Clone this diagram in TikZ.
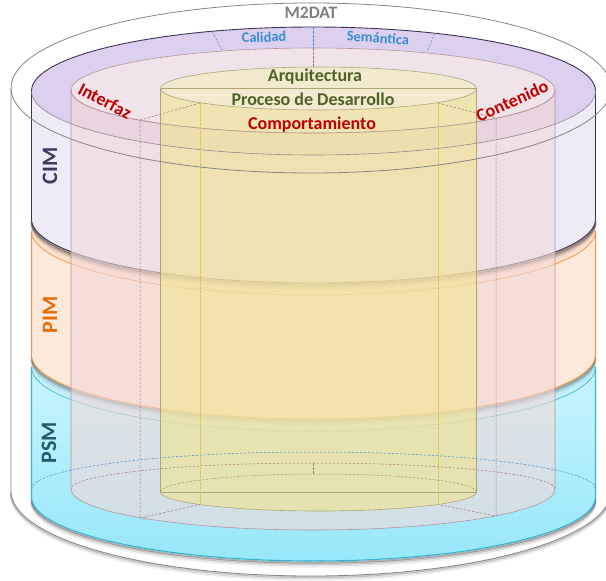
\documentclass[tikz,border=0pt]{standalone}
\usepackage{fontspec}
\setmainfont{Carlito}
\definecolor{outerline}{HTML}{858585}
\definecolor{cimside}{HTML}{EFEAF8}
\definecolor{cimtop}{HTML}{DCD0EE}
\definecolor{cimline}{HTML}{3C3457}
\definecolor{pimside}{HTML}{FDE9DA}
\definecolor{pimtop}{HTML}{FCE2CE}
\definecolor{pimline}{HTML}{F28F45}
\definecolor{psmA}{HTML}{C8F5FD}
\definecolor{psmB}{HTML}{97E7FA}
\definecolor{psmtop}{HTML}{C2EFF9}
\definecolor{psmline}{HTML}{36B3D3}
\definecolor{pinkfill}{HTML}{F2D8D8}
\definecolor{pinktop}{HTML}{F1E3EA}
\definecolor{pinkline}{HTML}{B89496}
\definecolor{yelfill}{HTML}{F0E58E}
\definecolor{yeltop}{HTML}{F2E9CF}
\definecolor{yelline}{HTML}{A9A774}
\definecolor{dashblue}{HTML}{4A90D0}
\definecolor{dashbrown}{HTML}{A87878}
\definecolor{dashyel}{HTML}{DDBF55}
\definecolor{txtgray}{HTML}{7F7F7F}
\definecolor{txtblue}{HTML}{3B8ED6}
\definecolor{txtolive}{HTML}{4F6228}
\definecolor{txtred}{HTML}{C00000}
\definecolor{txtcim}{HTML}{3F3A5C}
\definecolor{txtpim}{HTML}{E46C0A}
\definecolor{txtpsm}{HTML}{215A6B}
\begin{document}
\begin{tikzpicture}[x=1pt,y=-1pt,
  cylside/.style n args={6}{insert path={({#1-#2},#3) -- ({#1-#2},#5)
      arc[start angle=180,end angle=0,x radius=#2,y radius=#6] -- ({#1+#2},#3)
      arc[start angle=0,end angle=180,x radius=#2,y radius=#4] -- cycle}},
  frontarc/.style n args={4}{insert path={({#1-#2},#3) arc[start angle=180,end angle=0,x radius=#2,y radius=#4]}},
  backarc/.style n args={4}{insert path={({#1+#2},#3) arc[start angle=0,end angle=-180,x radius=#2,y radius=#4]}},
  dashline/.style={line width=0.5pt,dash pattern=on 2.5pt off 1.5pt},
  lbl/.style={inner sep=0pt,font=\bfseries\fontsize{18}{20}\selectfont},
  layerlbl/.style={inner sep=0pt,rotate=90,font=\bfseries\fontsize{22}{24}\selectfont},
  ringlbl/.style={inner sep=0pt,text=txtblue,font=\bfseries\fontsize{14.5}{16}\selectfont},
]
\useasboundingbox (0,0) rectangle (606,581);

% ---------- outer M2DAT cylinder ----------
\foreach \d/\o in {1/.20,2.5/.10,4/.05}
  \draw[line width=2pt,black,opacity=\o,frontarc={311}{300}{491+\d}{85}];
\fill[white,cylside={311}{300}{88}{85}{491}{85}];
\draw[outerline,line width=0.8pt] (11,88) -- (11,491)
  arc[start angle=180,end angle=0,x radius=300,y radius=85] -- (611,88);

% ---------- PSM layer ----------
\foreach \d/\o in {1.5/.30,3/.18,4.5/.09,6/.04}
  \draw[line width=2pt,black,opacity=\o,frontarc={313.5}{282}{497+\d}{64}];
\shade[top color=psmA,bottom color=psmB,cylside={313.5}{282}{367}{64}{497}{64}];
\fill[psmtop] (313.5,367) ellipse[x radius=282,y radius=64];
\draw[psmline,line width=0.6pt,frontarc={313.5}{282}{367}{64}];
\draw[psmline,line width=1.1pt] (31.5,367) -- (31.5,497)
  arc[start angle=180,end angle=0,x radius=282,y radius=64] -- (595.5,367);

% ---------- PIM layer ----------
\foreach \d/\o in {1.5/.25,3/.15,4.5/.08,6/.03}
  \draw[line width=2pt,black,opacity=\o,frontarc={313.5}{282}{355+\d}{64}];
\fill[pimside,cylside={313.5}{282}{231}{64}{355}{64}];
\fill[pimtop] (313.5,231) ellipse[x radius=282,y radius=64];
\draw[pimline,line width=0.7pt,frontarc={313.5}{282}{231}{64}];
\draw[pimline,line width=1pt] (31.5,231) -- (31.5,355)
  arc[start angle=180,end angle=0,x radius=282,y radius=64] -- (595.5,231);

% ---------- CIM layer ----------
\foreach \d/\o in {1.5/.35,3/.22,4.5/.12,6/.05}
  \draw[line width=2pt,black,opacity=\o,frontarc={313.5}{282}{219+\d}{64}];
\fill[cimside,cylside={313.5}{282}{91}{64}{219}{64}];
\fill[cimtop] (313.5,91) ellipse[x radius=282,y radius=64];
\draw[cimline,line width=0.9pt,backarc={313.5}{282}{91}{64}];
\draw[cimline,line width=0.9pt] (31.5,91) -- (31.5,219)
  arc[start angle=180,end angle=0,x radius=282,y radius=64] -- (595.5,91);

% ---------- pink cylinder (Interfaz / Comportamiento / Contenido) ----------
\fill[pinkfill,fill opacity=0.6,cylside={313}{242}{90.5}{42.5}{489}{41}];
\fill[pinktop] (313,90.5) ellipse[x radius=242,y radius=42.5];
\draw[pinkline,line width=0.6pt] (313,90.5) ellipse[x radius=242,y radius=42.5];
\draw[pinkline,line width=0.6pt] (71,90.5) -- (71,489)
  arc[start angle=180,end angle=0,x radius=242,y radius=41] -- (555,90.5);

% ---------- yellow cylinder (Arquitectura / Proceso de Desarrollo) ----------
\fill[yelfill,fill opacity=0.6,cylside={318.5}{158}{88.5}{21.5}{492}{19}];
\fill[yeltop] (318.5,88.5) ellipse[x radius=158,y radius=21.5];
\draw[yelline,line width=0.6pt] (318.5,88.5) ellipse[x radius=158,y radius=21.5];
\draw[yelline,line width=0.6pt] (160.5,88.5) -- (476.5,88.5);
\draw[yelline,line width=0.6pt] (160.5,88.5) -- (160.5,492)
  arc[start angle=180,end angle=0,x radius=158,y radius=19] -- (476.5,88.5);
\draw[yelline,line width=0.6pt] (160.5,492) -- (476.5,492);

% front rims seen through the translucent cylinders
\draw[pinkline,line width=0.6pt,frontarc={313}{242}{90.5}{42.5}];
\draw[black!45,line width=0.6pt,frontarc={313.5}{282}{91}{64}];

% ---------- dashed sector lines ----------
\draw[dashline,dashblue] (313,27) -- (313,48);
\draw[dashline,dashbrown] (313,48) -- (313,67);
\draw[dashline,dashblue] (212,31) -- (222,50);
\draw[dashline,dashblue] (435,33) -- (427,52);
\draw[dashline,dashbrown] (200,103) -- (140,120) -- (140,518) -- (200,504.5);
\draw[dashline,dashbrown] (438,103) -- (496,118) -- (496,516) -- (438,504.5);
\draw[dashline,dashyel] (200,103) -- (200,504.5);
\draw[dashline,dashyel] (438,103) -- (438,504.5);
\draw[dashline,dashblue,backarc={313.5}{282}{489}{37}];
\draw[dashline,dashbrown,backarc={313}{242}{489}{26}];
\draw[dashline,dashyel!80!black,backarc={318.5}{158}{492}{18}];
\draw[dashline,dashbrown] (313,463) -- (313,474);

% ---------- outer rim on top ----------
\draw[outerline,line width=0.8pt] (311,88) ellipse[x radius=300,y radius=85];

% ---------- labels ----------
\node[lbl,text=txtgray,font=\bfseries\fontsize{17.5}{20}\selectfont] (m2dat) at (311,13) {M2DAT};
\node[ringlbl,rotate=2] (calidad) at (264,37) {Calidad};
\node[ringlbl,rotate=-4] (semantica) at (378,38) {Semántica};
\node[lbl,text=txtolive] (arq) at (315,77) {Arquitectura};
\node[lbl,text=txtolive] (proc) at (313,99) {Proceso de Desarrollo};
\node[lbl,text=txtred] (comp) at (312,125) {Comportamiento};
\node[lbl,text=txtred,rotate=-28] (interfaz) at (105,101) {Interfaz};
\node[lbl,text=txtred,rotate=24] (contenido) at (512,101) {Contenido};
\node[layerlbl,text=txtcim] (cim) at (50,166) {CIM};
\node[layerlbl,text=txtpim] (pim) at (50,315) {PIM};
\node[layerlbl,text=txtpsm] (psm) at (49,443) {PSM};
\end{tikzpicture}
\end{document}
